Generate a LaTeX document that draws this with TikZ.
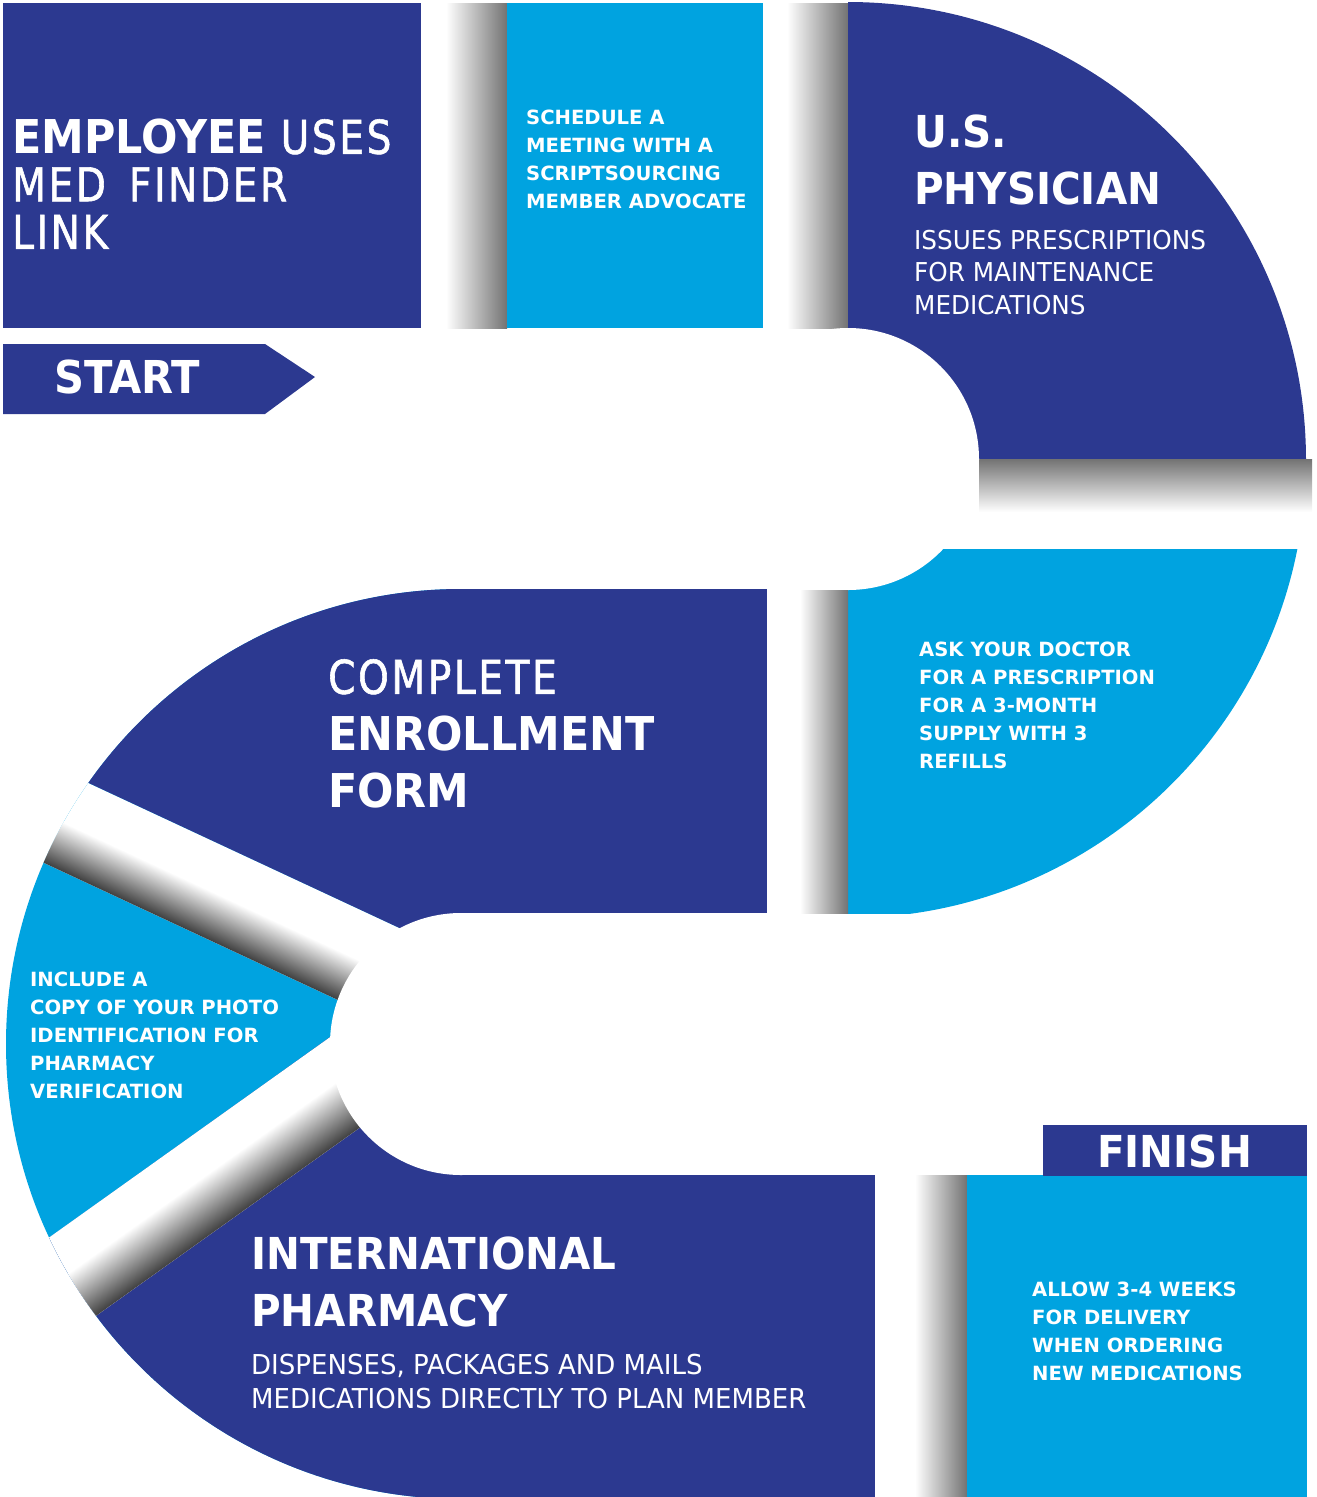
\documentclass[tikz,border=0pt]{standalone}
\usepackage{fontspec}
\setmainfont{DejaVu Sans}
\newfontfamily\headfont[FakeStretch=0.92]{DejaVu Sans}
\newfontfamily\spacedfont[FakeStretch=0.84,LetterSpace=5.5,FakeBold=1.2]{DejaVu Sans}
\newfontfamily\descfont[FakeStretch=0.95]{DejaVu Sans}
\usepackage{xcolor}
\usetikzlibrary{positioning}
\definecolor{navy}{RGB}{44,57,144}
\definecolor{sky}{RGB}{0,163,224}

\begin{document}
\begin{tikzpicture}[x=1pt, y=-1pt]
    % Styles
    \tikzstyle{dark} = [fill=navy]
    \tikzstyle{light} = [fill=sky]
    \tikzstyle{fadeh} = [left color=white, right color=black!55]
    \tikzstyle{fadev} = [top color=black!55, bottom color=white]
    \tikzstyle{fadeband} = [top color=white, bottom color=black!75]
    \tikzstyle{bigtext} = [anchor=north west, inner sep=0pt, text=white, align=left, font=\headfont\bfseries\fontsize{44}{57}\selectfont]
    \tikzstyle{smalltext} = [anchor=north west, inner sep=0pt, text=white, align=left, font=\bfseries\fontsize{19.6}{28}\selectfont]
    \tikzstyle{plaintext} = [anchor=north west, inner sep=0pt, text=white, align=left, font=\descfont\fontsize{26}{32.5}\selectfont]

    \useasboundingbox (0,0) rectangle (1317,1497);

    % --- ROW 1: EMPLOYEE, SCHEDULE, PHYSICIAN ---
    \fill[dark] (3,3) rectangle (421,328);
    \shade[fadeh] (446,3) rectangle (507,328);
    \fill[light] (507,3) rectangle (763,328);
    \shade[fadeh] (787,3) rectangle (848,328);
    \fill[dark] (848,460) -- (848,2) arc[start angle=-90, end angle=0, radius=458] -- cycle;
    \shade[fadev] (979,459) rectangle (1312,512);
    \begin{scope}
        \clip (848,549) rectangle (1317,913);
        \fill[light] (848,460) -- (1306,460) arc[start angle=0, end angle=90, radius=458] -- cycle;
    \end{scope}
    \fill[white] (848,459) circle (131);

    % START arrow
    \fill[dark] (3,344) -- (265,344) -- (315,377) -- (265,414) -- (3,414) -- cycle;

    % --- ROW 2: ASK YOUR DOCTOR, ENROLLMENT ---
    \shade[fadeh] (800,590) rectangle (848,913);

    % left half ring: enrollment, photo id, pharmacy
    \begin{scope}
        \clip (461,589) arc[start angle=-90, end angle=-270, radius=455] -- cycle;
        \fill[light] (0,580) rectangle (470,1510);
        \fill[dark] (-10,737) -- (470,961) -- (470,560) -- (-10,560) -- cycle;
        \fill[dark] (-10,1280) -- (470,937) -- (470,1510) -- (-10,1510) -- cycle;
        \begin{scope}[transform canvas={shift={(88,783)}, rotate=-25}]
            \fill[white] (-200,0) rectangle (500,91);
            \shade[fadeband] (-200,46) rectangle (500,91);
        \end{scope}
        \begin{scope}[transform canvas={shift={(47,1239)}, rotate=35.5}]
            \fill[white] (-200,0) rectangle (500,91);
            \shade[fadeband] (-200,40) rectangle (500,91);
        \end{scope}
    \end{scope}
    \fill[dark] (450,589) rectangle (767,913);

    % --- ROW 3: PHARMACY, FINISH ---
    \fill[dark] (450,1175) rectangle (875,1497);
    \fill[white] (461,1044) circle (131);
    \shade[fadeh] (915,1175) rectangle (967,1497);
    \fill[light] (967,1175) rectangle (1307,1497);
    \fill[dark] (1043,1125) rectangle (1307,1176);

    % --- LABELS ---
    \node[bigtext, font=\fontsize{46.6}{47.5}\selectfont] (employee) at (12,119)
        {{\headfont\bfseries EMPLOYEE} {\spacedfont USES}\\{\spacedfont MED\hspace{8pt} FINDER}\\{\spacedfont LINK}};
    \node[bigtext, font=\headfont\bfseries\fontsize{45.3}{50}\selectfont] (start) at (54,360) {START};
    \node[smalltext] (schedule) at (526,110) {SCHEDULE A\\MEETING WITH A\\SCRIPTSOURCING\\MEMBER ADVOCATE};
    \node[bigtext] (physician) at (914,115) {U.S.\\PHYSICIAN};
    \node[plaintext, below=24pt of physician.south west, anchor=north west] (issues)
        {ISSUES PRESCRIPTIONS\\FOR MAINTENANCE\\MEDICATIONS};
    \node[bigtext, font=\fontsize{46.6}{57}\selectfont] (enroll) at (328,659)
        {{\spacedfont COMPLETE}\\{\headfont\bfseries ENROLLMENT}\\{\headfont\bfseries FORM}};
    \node[smalltext] (doctor) at (919,642) {ASK YOUR DOCTOR\\FOR A PRESCRIPTION\\FOR A 3-MONTH\\SUPPLY WITH 3\\REFILLS};
    \node[smalltext] (photo) at (30,972) {INCLUDE A\\COPY OF YOUR PHOTO\\IDENTIFICATION FOR\\PHARMACY\\VERIFICATION};
    \node[bigtext] (pharmacy) at (251,1237) {INTERNATIONAL\\PHARMACY};
    \node[plaintext, font=\descfont\fontsize{27.4}{34}\selectfont, below=26pt of pharmacy.south west, anchor=north west] (mails)
        {DISPENSES, PACKAGES AND MAILS\\MEDICATIONS DIRECTLY TO PLAN MEMBER};
    \node[bigtext] (finish) at (1097,1135) {FINISH};
    \node[smalltext] (delivery) at (1032,1282) {ALLOW 3-4 WEEKS\\FOR DELIVERY\\WHEN ORDERING\\NEW MEDICATIONS};

\end{tikzpicture}
\end{document}
